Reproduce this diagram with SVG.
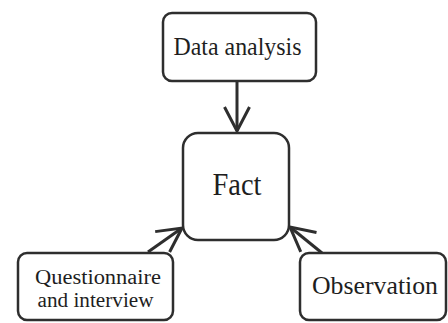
<svg xmlns="http://www.w3.org/2000/svg" width="448" height="323" viewBox="0 0 448 323">
<style>
.box{fill:#fff;stroke:#2e2e2e;stroke-width:2.5}
.t{font-family:"Liberation Serif","Times New Roman",serif;fill:#1e1e1e;text-anchor:middle}
.c{stroke:#2e2e2e;stroke-width:3;fill:none}
</style>
<defs>
<marker id="v" markerUnits="userSpaceOnUse" markerWidth="32" markerHeight="32" viewBox="-28 -16 32 32" refX="0" refY="0" orient="auto" overflow="visible">
<path d="M-24 -12.5 L0 0 L-24 12.5" fill="none" stroke="#2e2e2e" stroke-width="3"/>
</marker>
</defs>
<rect width="448" height="323" fill="#fff"/>
<g id="connectors">
<path class="c" d="M237 82 L237 131" marker-end="url(#v)"/>
<path class="c" d="M148 252 L182 228" marker-end="url(#v)"/>
<path class="c" d="M322 253 L290 227" marker-end="url(#v)"/>
</g>
<g id="data-analysis">
<rect class="box" x="163" y="13" width="153" height="68" rx="9"/>
<text class="t" x="237.5" y="54.5" font-size="25" textLength="128" lengthAdjust="spacingAndGlyphs">Data analysis</text>
</g>
<g id="fact">
<rect class="box" x="183" y="133" width="106" height="107" rx="15"/>
<text class="t" x="237" y="195" font-size="31" textLength="49" lengthAdjust="spacingAndGlyphs">Fact</text>
</g>
<g id="questionnaire">
<rect class="box" x="18" y="253" width="155" height="67" rx="9"/>
<text class="t" x="98" y="283.5" font-size="20.5" textLength="126" lengthAdjust="spacingAndGlyphs">Questionnaire</text>
<text class="t" x="95.5" y="306.5" font-size="20.5" textLength="116" lengthAdjust="spacingAndGlyphs">and interview</text>
</g>
<g id="observation">
<rect class="box" x="300" y="253" width="146" height="67" rx="9"/>
<text class="t" x="375" y="294" font-size="25.5" textLength="126" lengthAdjust="spacingAndGlyphs">Observation</text>
</g>
</svg>
